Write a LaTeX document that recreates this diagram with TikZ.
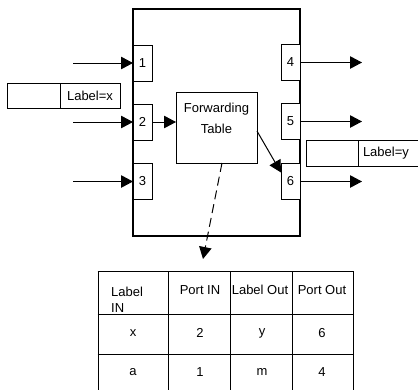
\documentclass[tikz,border=0pt]{standalone}
\usepackage{fontspec}
\setmainfont{Liberation Sans}
\usetikzlibrary{arrows.meta,calc,positioning}
\tikzset{
	txt/.style={font=\fontsize{13}{14}\selectfont},
	port/.style={draw, line width=1pt, fill=white, minimum width=19pt, minimum height=36pt, inner sep=0pt, outer sep=0pt},
	lblbox/.style={draw, line width=0.9pt, minimum height=25pt, inner sep=0pt, outer sep=0pt},
	link/.style={line width=1pt, -{Triangle[length=12pt,width=12.5pt]}}
}
\begin{document}
\begin{tikzpicture}[x=1pt,y=-1pt,every node/.append style={txt}]
		\useasboundingbox (0,0) rectangle (418,389);
		\clip (0,0) rectangle (418,389);
		%draw router with its ports
		\node[draw, line width=1.1pt, minimum width=167pt, minimum height=227pt, anchor=north west, outer sep=0pt] (router) at (133,9) {};
		\node[port, anchor=west] (p1) at (133,63) {1};
		\node[port, anchor=west] (p2) at (133,122) {2};
		\node[port, anchor=west] (p3) at (133,181.5) {3};
		\node[port, anchor=east] (p4) at (300,62.5) {4};
		\node[port, anchor=east] (p5) at (300,121.5) {5};
		\node[port, anchor=east] (p6) at (300,181.5) {6};
		%draw forwarding table box
		\node[draw, line width=1pt, minimum width=81pt, minimum height=71pt, anchor=north west, outer sep=0pt] (ft) at (176,92) {};
		\node[align=center, anchor=north, inner sep=0pt] (fttext) at (216.5,103) {Forwarding\\[7pt]Table};
		%draw incoming and outgoing links
		\coordinate (in1) at (73,63);
		\coordinate (in2) at (73,122);
		\coordinate (in3) at (73,181.5);
		\coordinate (out4) at (362,62.5);
		\coordinate (out5) at (362,121.5);
		\coordinate (out6) at (362,181.5);
		\draw[link] (in1) -- (p1.west);
		\draw[link] (in2) -- (p2.west);
		\draw[link] (in3) -- (p3.west);
		\draw[link] (p4.east) -- (out4);
		\draw[link] (p5.east) -- (out5);
		\draw[link] (p6.east) -- (out6);
		\draw[link] (p2.east) -- (p2.east -| ft.west);
		\draw[link] ($(ft.north east)!0.55!(ft.south east)$) -- ($(p6.north west)!0.25!(p6.south west)$);
		%draw labels
		\node[lblbox, minimum width=53pt, anchor=north west] (hdrx) at (7,83) {};
		\node[lblbox, minimum width=60pt, right=0pt of hdrx] (lblx) {Label=x};
		\node[lblbox, minimum width=52pt, minimum height=26pt, anchor=north west] (hdry) at (306,140) {};
		\node[lblbox, minimum height=26pt, text width=57pt, inner xsep=5pt, align=left, right=0pt of hdry] (lbly) {Label=y};
		%draw lookup table
		\coordinate (tip) at (203,259);
		\draw[link, dash pattern=on 9pt off 5pt] ([xshift=5.5pt]ft.south) -- (tip);
		\foreach \x in {98,168,230,292,353}
			\draw[line width=1pt] (\x,271) -- (\x,395);
		\foreach \y in {271,314,354}
			\draw[line width=1pt] (97.5,\y) -- (353.5,\y);
		\node[anchor=north west, align=left, inner sep=0pt] (hlabin) at (111,287) {Label\\[2pt]IN};
		\node (hportin) at (200,290) {Port IN};
		\node (hlabout) at (260,290) {Label Out};
		\node (hportout) at (322,290) {Port Out};
		\foreach \a/\b/\c/\d/\y/\r in {x/2/y/6/333/1, a/1/m/4/372/2} {
			\node (lin\r) at (133,\y) {\a};
			\node (pin\r) at (200,\y) {\b};
			\node (lout\r) at (262,\y) {\c};
			\node (pout\r) at (322,\y) {\d};
		}
		
	\end{tikzpicture}
\end{document}
